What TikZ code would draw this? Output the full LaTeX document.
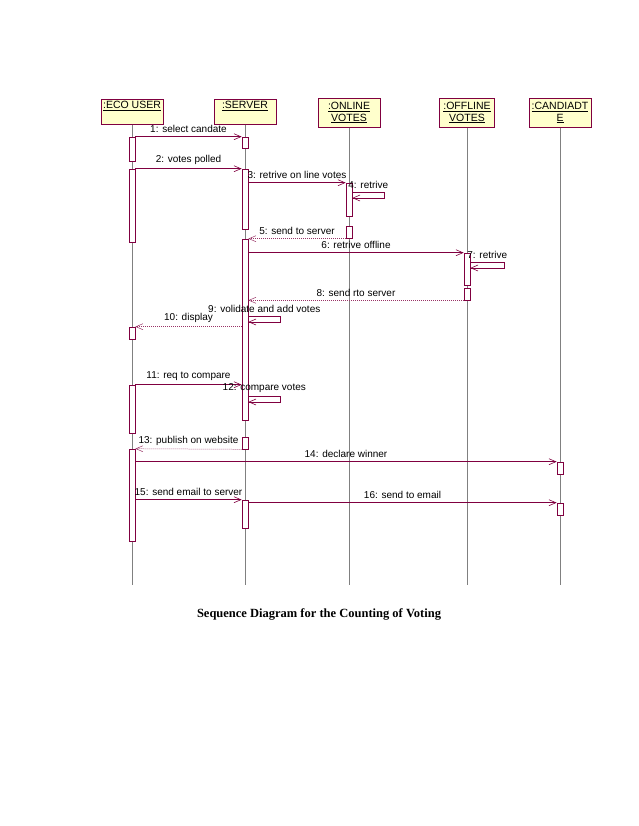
\documentclass[tikz,border=0pt]{standalone}
\usepackage{fontspec}
\setmainfont{Liberation Sans}
\newfontfamily\capfont{Liberation Serif}
\usetikzlibrary{arrows.meta,positioning}
\definecolor{umlline}{RGB}{128,0,64}
\definecolor{umlfill}{RGB}{255,255,204}
\tikzset{
  obj/.style={draw=umlline, fill=umlfill, line width=0.6pt, minimum width=62pt, minimum height=29pt,
    inner sep=1.5pt, align=center, anchor=north, font=\fontsize{10.5}{11.5}\selectfont},
  life/.style={draw=gray, line width=0.4pt},
  actbar/.style={draw=umlline, fill=white, line width=0.6pt, minimum width=6pt, inner sep=0pt},
  msg/.style={draw=umlline, line width=0.6pt, -{Straight Barb[length=7pt,width=6pt]}},
  ret/.style={msg, draw=umlline!80, dash pattern=on 1pt off 1pt, line width=0.5pt},
  lbl/.style={font=\fontsize{10}{11}\selectfont, inner sep=1pt, above=2.5pt, text=black}
}
\newcommand{\activ}[4]{\node[actbar, minimum height={(#4-#3)*1pt}] (#1) at (#2,{(#3+#4)/2}) {};}
\begin{document}
\begin{tikzpicture}[x=1pt,y=-1pt]
  \useasboundingbox (0,0) rectangle (638,826);
  \node[obj, minimum height=25pt] (eco) at (132,99) {\underline{:ECO USER}\\[-1pt]\strut};
  \node[obj, minimum height=25pt] (server) at (245,99) {\underline{:SERVER}\\[-1pt]\strut};
  \node[obj] (online) at (349,98) {\underline{:ONLINE}\\\underline{VOTES}};
  \node[obj, minimum width=55pt] (offline) at (467,98) {\underline{:OFFLINE}\\\underline{VOTES}};
  \node[obj] (cand) at (560,98) {\underline{:CANDIADT}\\\underline{E}};
  \foreach \obj in {eco,server,online,offline,cand}
    \draw[life] (\obj.south) -- (\obj.south |- 0,585);

  \activ{e1}{132}{137}{161}
  \activ{e2}{132}{169}{242}
  \activ{e3}{132}{327}{339}
  \activ{e4}{132}{385}{433}
  \activ{e5}{132}{449}{541}
  \activ{s1}{245}{137}{148}
  \activ{s2}{245}{169}{229}
  \activ{s3}{245}{239}{420}
  \activ{s4}{245}{437}{449}
  \activ{s5}{245}{500}{528}
  \activ{o1}{349}{183}{216}
  \activ{o2}{349}{226}{238}
  \activ{f1}{467}{253}{285}
  \activ{f2}{467}{288}{300}
  \activ{c1}{560}{462}{474}
  \activ{c2}{560}{503}{515}

  \draw[msg] (e1.east |- s1.north) -- node[lbl] {1: select candate} (s1.north west);
  \draw[msg] (e2.north east) -- node[lbl] {2: votes polled} (s2.north west);
  \draw[msg] (s2.east |- o1.north) -- node[lbl] {3: retrive on line votes} (o1.north west);
  \draw[msg] (o1.east |- 0,192) -- node[lbl] {4: retrive} ++(32,0) -- ++(0,6) -- (o1.east |- 0,198);
  \draw[ret] (o2.west |- s3.north) -- node[lbl] {5: send to server} (s3.north east);
  \draw[msg] (s3.east |- f1.north) -- node[lbl] {6: retrive offline} (f1.north west);
  \draw[msg] (f1.east |- 0,262) -- node[lbl] {7: retrive} ++(34,0) -- ++(0,6) -- (f1.east |- 0,268);
  \draw[ret] (f2.south west) -- node[lbl] {8: send rto server} (s3.east |- f2.south);
  \draw[msg] (s3.east |- 0,316) -- node[lbl] {9: volidate and add votes} ++(32,0) -- ++(0,6) -- (s3.east |- 0,322);
  \draw[ret] (s3.west |- e3.north) -- node[lbl] {10: display} (e3.north east);
  \draw[msg] (e4.north east) -- node[lbl] {11: req to compare} (s3.west |- e4.north);
  \draw[msg] (s3.east |- 0,396) -- node[lbl] {12: compare votes} ++(32,0) -- ++(0,6) -- (s3.east |- 0,402);
  \draw[ret] (s4.south west) -- node[lbl] {13: publish on website} (e5.north east);
  \draw[msg] (e5.east |- c1.north) -- node[lbl] {14: declare winner} (c1.north west);
  \draw[msg] (e5.east |- s5.north) -- node[lbl] {15: send email to server} (s5.north west);
  \draw[msg] (s5.east |- c2.north) -- node[lbl] {16: send to email} (c2.north west);

  \node[font=\capfont\bfseries\fontsize{12.5}{14}\selectfont] (caption) at (319,614)
    {Sequence Diagram for the Counting of Voting};
\end{tikzpicture}
\end{document}
